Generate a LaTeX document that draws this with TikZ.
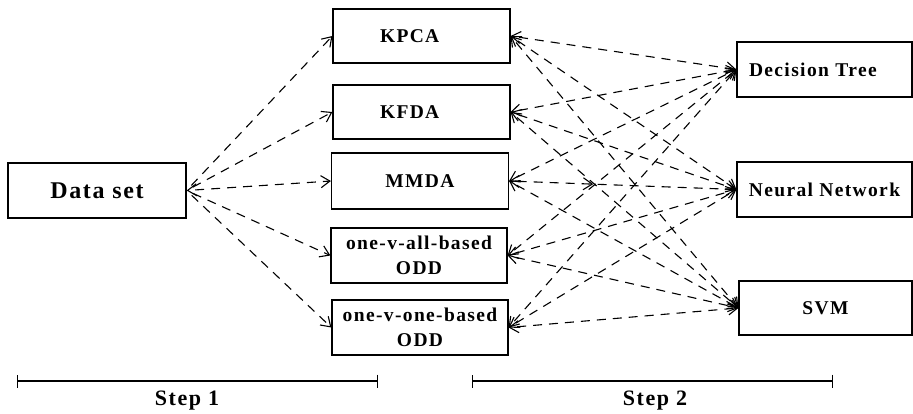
\documentclass[tikz,border=0pt]{standalone}
\usepackage{fontspec}
\setmainfont{Liberation Serif}
\newfontfamily\labelfont{Liberation Serif}[LetterSpace=7]
\usetikzlibrary{arrows.meta,decorations.markings}
\begin{document}
\begin{tikzpicture}[x=1pt,y=-1pt,
  >={Straight Barb[length=9pt,width=12pt]},
  box/.style={draw, line width=1.2pt, inner sep=0pt, align=center,
    minimum width=177pt, minimum height=55pt,
    font=\labelfont\bfseries\fontsize{19.5}{25}\selectfont},
  bigbox/.style={box, font=\labelfont\bfseries\fontsize{24}{28}\selectfont},
  leftbox/.style={box, align=left, inner xsep=#1, text width=177pt-2*#1},
  link/.style={line width=1.1pt, dash pattern=on 9pt off 7pt, dash phase=9pt},
  steptext/.style={font=\labelfont\bfseries\fontsize{22}{24}\selectfont, inner sep=0pt},
  stepbar/.style={line width=1.2pt, {Bar[width=13pt]}-{Bar[width=13pt]}}
]
\useasboundingbox (0,0) rectangle (913,413);

% input
\node[bigbox, minimum width=178pt] (data) at (97,190.5) {Data set};

% step 1 methods
\node[leftbox=47pt, minimum height=54pt] (kpca) at (421.5,36) {KPCA};
\node[leftbox=47pt, minimum height=54pt] (kfda) at (421.5,112) {KFDA};
\node[box, minimum height=56pt] (mmda) at (420,181) {MMDA};
\node[box, minimum width=176pt] (ova) at (419,255.5) {one-v-all-based\\ODD};
\node[box, minimum width=176pt] (ovo) at (420,327.5) {one-v-one-based\\ODD};

% step 2 classifiers
\node[box, minimum width=175pt, align=left, inner xsep=12pt, text width=151pt] (dt) at (824.5,69.5) {Decision Tree};
\node[box, minimum width=175pt] (nn) at (824.5,189.5) {Neural Network};
\node[box, minimum width=173pt, minimum height=54pt] (svm) at (825.5,308) {SVM};

% data set to each method
\draw[link,->] (data.east) -- (kpca.west);
\draw[link,->] (data.east) -- (kfda.west);
\draw[link,<->] (data.east) -- (mmda.west);
\draw[link,->] (data.east) -- (ova.west);
\draw[link,->] (data.east) -- (ovo.west);

% every method to every classifier
\foreach \m in {kpca,kfda,ova,ovo}{
  \foreach \c in {dt,nn,svm}{
    \draw[link,<->] (\m.east) -- (\c.west);
  }
}
\draw[link,<->] (mmda.east) -- (dt.west);
\draw[link,<->] (mmda.east) -- (svm.west);
\draw[link,<->, postaction={decorate},
  decoration={markings, mark=at position 0.37 with {\arrow{>}}}]
  (mmda.east) -- (nn.west);

% step bars
\coordinate (s1a) at (17,381);
\coordinate (s1b) at (378,381);
\coordinate (s2a) at (472,381);
\coordinate (s2b) at (833,381);
\draw[stepbar] (s1a) -- (s1b);
\draw[stepbar] (s2a) -- (s2b);
\node[steptext] (step1) at (187,401) {Step 1};
\node[steptext] (step2) at (655,401) {Step 2};
\end{tikzpicture}
\end{document}
